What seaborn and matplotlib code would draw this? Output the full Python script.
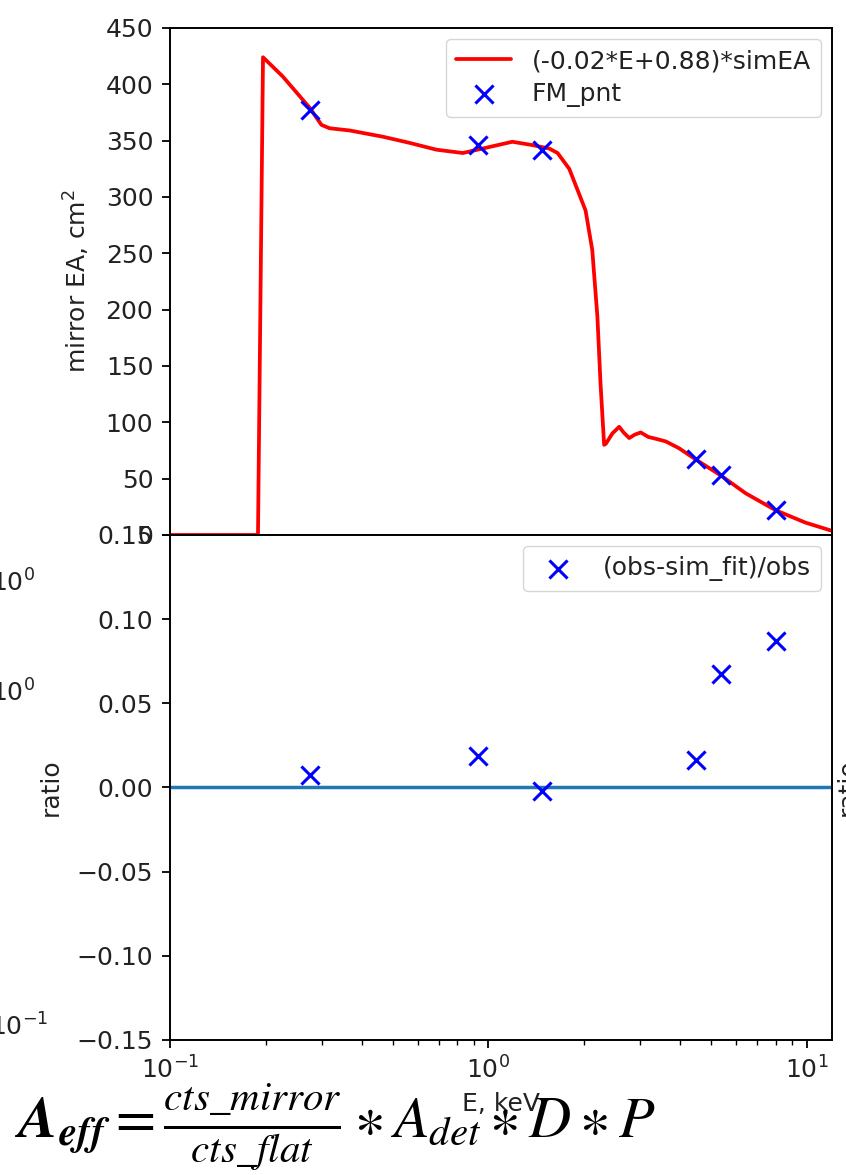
import matplotlib
matplotlib.use("Agg")

import matplotlib.pyplot as plt
import seaborn as sns

# ------------------------------------------------------------------
# data
# ------------------------------------------------------------------
energy_keV = [0.10, 0.15, 0.189, 0.196, 0.226, 0.275, 0.299, 0.317, 0.367,
              0.466, 0.566, 0.686, 0.831, 0.96, 1.19, 1.377, 1.553, 1.65,
              1.795, 2.02, 2.12, 2.20, 2.25, 2.31, 2.34, 2.45, 2.575, 2.66,
              2.77, 2.88, 3.01, 3.18, 3.40, 3.61, 3.97, 4.48, 5.36, 6.43,
              7.98, 9.9, 11.9]
sim_ea = [0, 0, 0, 424, 407, 379, 364, 361, 359,
          353.5, 348, 342, 339, 343, 349, 346, 343, 339,
          325, 288, 253, 194, 135, 80, 81, 90, 96, 91,
          86, 89, 91, 87, 85, 83, 77, 67, 53, 37,
          22, 11, 4]

fm_energy = [0.275, 0.926, 1.479, 4.48, 5.36, 7.98]
fm_ea = [377, 346, 342, 67, 53, 22]
ratio = [0.0077, 0.0186, -0.0022, 0.0163, 0.0677, 0.0871]

line_label = "(-0.02*E+0.88)*simEA"
pnt_label = "FM_pnt"
ratio_label = "(obs-sim_fit)/obs"

# ------------------------------------------------------------------
# style
# ------------------------------------------------------------------
sns.set_theme(style="ticks", rc={
    "axes.edgecolor": "black",
    "axes.linewidth": 1.4,
    "xtick.color": "black",
    "ytick.color": "black",
    "text.color": "#222222",
    "axes.labelcolor": "#222222",
    "xtick.labelcolor": "#222222",
    "ytick.labelcolor": "#222222",
    "xtick.major.size": 6,
    "ytick.major.size": 6,
    "xtick.minor.size": 3.5,
    "xtick.major.width": 1.3,
    "ytick.major.width": 1.3,
    "xtick.minor.width": 1.0,
    "xtick.major.pad": 6,
    "ytick.major.pad": 6,
})
plt.rcParams["font.family"] = ["DejaVu Sans"]
plt.rcParams["mathtext.fontset"] = "dejavusans"
plt.rcParams["mathtext.rm"] = "STIXGeneral"
plt.rcParams["mathtext.it"] = "STIXGeneral:italic"
plt.rcParams["mathtext.bf"] = "STIXGeneral:italic:bold"
plt.rcParams["axes.unicode_minus"] = True

FS = 18

fig = plt.figure(figsize=(8.46, 11.75), dpi=100)
ax1 = fig.add_axes([0.2009, 0.5447, 0.7825, 0.4315])
ax2 = fig.add_axes([0.2009, 0.1149, 0.7825, 0.4298], sharex=ax1)

# top panel
sns.lineplot(x=energy_keV, y=sim_ea, color="red", linewidth=2.7, sort=False,
             label=line_label, ax=ax1)
sns.scatterplot(x=fm_energy, y=fm_ea, marker="x", color="blue", s=170,
                linewidth=2.2, label=pnt_label, ax=ax1, zorder=3)
ax1.set_xscale("log")
ax1.set_xlim(0.1, 12)
ax1.set_ylim(0, 450)
ax1.set_yticks(range(0, 451, 50))
ax1.set_ylabel("mirror EA, cm$^2$", fontsize=FS, labelpad=10)
ax1.tick_params(axis="x", which="both", bottom=False, labelbottom=False)
ax1.tick_params(axis="y", labelsize=FS)
ax1.legend(loc="upper right", fontsize=FS, framealpha=0.8, borderaxespad=0.45,
           handlelength=2.2, labelspacing=0.35)

# bottom panel
ax2.axhline(0, color="#1f77b4", linewidth=2.5, zorder=1)
sns.scatterplot(x=fm_energy, y=ratio, marker="x", color="blue", s=170,
                linewidth=2.2, label=ratio_label, ax=ax2, zorder=3)
ax2.set_xscale("log")
ax2.set_xlim(0.1, 12)
ax2.set_ylim(-0.15, 0.15)
ax2.set_yticks([-0.15, -0.10, -0.05, 0.0, 0.05, 0.10, 0.15])
ax2.set_ylabel("ratio", fontsize=FS, labelpad=10)
ax2.set_xlabel("E, keV", fontsize=FS, labelpad=6)
ax2.tick_params(axis="both", labelsize=FS)
ax2.legend(loc="upper right", fontsize=FS, framealpha=0.8, borderaxespad=0.45)

for ax in (ax1, ax2):
    for side in ("top", "right"):
        ax.spines[side].set_visible(True)

# fragments of the neighbouring figure cut by the screenshot
fig.text(35 / 846, 1 - 583 / 1175, "$10^0$", ha="right", va="center",
         fontsize=FS, color="#222222")
fig.text(35 / 846, 1 - 693 / 1175, "$10^0$", ha="right", va="center",
         fontsize=FS, color="#222222")
fig.text(48 / 846, 1 - 1027 / 1175, "$10^{-1}$", ha="right", va="center",
         fontsize=FS, color="#222222")
fig.text(836 / 846, 1 - 787 / 1175, "ratio", ha="left", va="center",
         rotation=90, fontsize=FS, color="#222222")

# formula under the chart
fig.text(15 / 846, 1 - 1127 / 1175,
         r"$\mathbf{A_{eff}} = \frac{cts\_mirror}{cts\_flat} \ast A_{det} \ast D \ast P$",
         ha="left", va="center", fontsize=42, color="black",
         math_fontfamily="custom")

fig.savefig("out.png", dpi=100)
